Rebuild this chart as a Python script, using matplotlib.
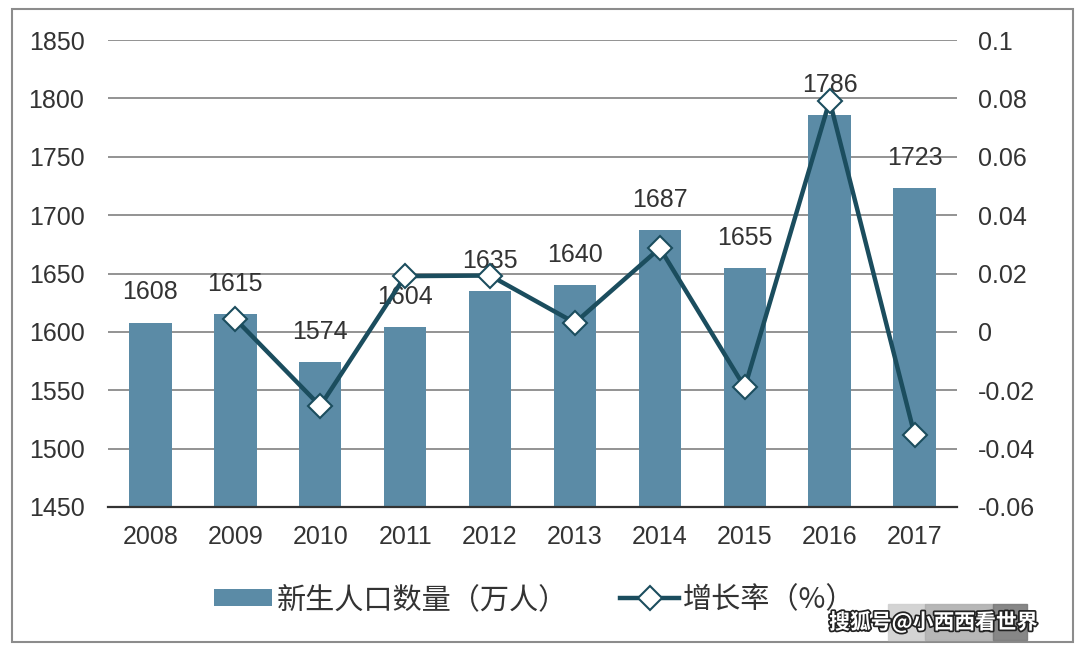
import matplotlib.pyplot as plt
import matplotlib.patheffects as pe
from matplotlib.patches import Rectangle

plt.rcParams['font.family'] = ['Liberation Sans', 'Noto Sans CJK SC', 'DejaVu Sans']

#Data
years = ["2008", "2009", "2010", "2011", "2012", "2013", "2014", "2015", "2016", "2017"]
births = [1608, 1615, 1574, 1604, 1635, 1640, 1687, 1655, 1786, 1723]
rate_years = ["2009", "2010", "2011", "2012", "2013", "2014", "2015", "2016", "2017"]
rate = [0.0044, -0.0254, 0.0191, 0.0193, 0.0031, 0.0287, -0.0190, 0.0792, -0.0353]

bar_color = "#5b8ba6"
line_color = "#1b4d5e"
text_color = "#333333"

fig = plt.figure(figsize=(10.8, 6.45), dpi=100)
ax = fig.add_axes([108 / 1080, 1 - 507 / 645, (957 - 108) / 1080, (507 - 40) / 645])

x = list(range(len(years)))
rx = [years.index(y) for y in rate_years]

#Bar chart
bars = ax.bar(x, births, width=0.5, color=bar_color, zorder=2, label="新生人口数量（万人）")
ax.set_ylim(1450, 1850)
ax.set_xlim(-0.5, 9.5)
ax.set_yticks(range(1450, 1851, 50))
ax.set_xticks(x)
ax.set_xticklabels(years)
ax.grid(axis="y", color="#8a8a8a", linewidth=1.3, zorder=0)
ax.set_axisbelow(True)
for s in ["top", "left", "right"]:
    ax.spines[s].set_visible(False)
ax.spines["bottom"].set_color("#333333")
ax.spines["bottom"].set_linewidth(1.6)
ax.tick_params(axis="y", length=0, pad=17, labelsize=18, labelcolor=text_color)
ax.tick_params(axis="x", length=0, pad=13, labelsize=18, labelcolor=text_color)

for xi, v in zip(x, births):
    ax.annotate(str(v), (xi, v), xytext=(0, 13), textcoords="offset points",
                ha="center", va="bottom", fontsize=18, color=text_color, zorder=5)

#Line chart on second axis
ax2 = ax.twinx()
ln, = ax2.plot(rx, rate, color=line_color, linewidth=3.2, marker="D", markersize=12,
               markerfacecolor="white", markeredgecolor=line_color, markeredgewidth=1.5,
               zorder=4, label="增长率（%）")
ax2.set_ylim(-0.06, 0.1)
ax2.set_yticks([-0.06, -0.04, -0.02, 0, 0.02, 0.04, 0.06, 0.08, 0.1])
ax2.set_yticklabels(["-0.06", "-0.04", "-0.02", "0", "0.02", "0.04", "0.06", "0.08", "0.1"])
ax2.tick_params(axis="y", length=0, pad=15, labelsize=18, labelcolor=text_color)
for s in ["top", "left", "right", "bottom"]:
    ax2.spines[s].set_visible(False)

#Legend
leg = fig.legend(handles=[bars, ln], loc="center left", bbox_to_anchor=(214 / 1080, 1 - 600 / 645),
                 ncol=2, frameon=False, handlelength=2.0, handleheight=0.55,
                 handletextpad=0.15, columnspacing=1.8, borderpad=0, borderaxespad=0,
                 prop={"family": ["Noto Sans CJK SC", "DejaVu Sans"], "size": 21})
for t in leg.get_texts():
    t.set_color(text_color)

#Outer frame
fig.patches.append(Rectangle((12 / 1080, 1 - 642 / 645), (1073 - 12) / 1080, (642 - 9) / 645,
                             transform=fig.transFigure, fill=False, edgecolor="#8c8c8c",
                             linewidth=1.5))

#Watermark
for x0, x1, c in [(888, 925, "#d0d0d0"), (925, 993, "#b0b0b0"), (993, 1027, "#7a7a7a")]:
    fig.patches.append(Rectangle((x0 / 1080, 1 - 640 / 645), (x1 - x0) / 1080, 36 / 645,
                                 transform=fig.transFigure, color=c, alpha=0.9, zorder=10))
fig.text(1038 / 1080, 1 - 622 / 645, "搜狐号@小西西看世界", ha="right", va="center",
         fontsize=15, fontweight="bold", color="white", zorder=11,
         family=["Noto Sans CJK SC", "DejaVu Sans"],
         path_effects=[pe.withStroke(linewidth=2.5, foreground="#222222")])

fig.savefig("out.png", dpi=100)
